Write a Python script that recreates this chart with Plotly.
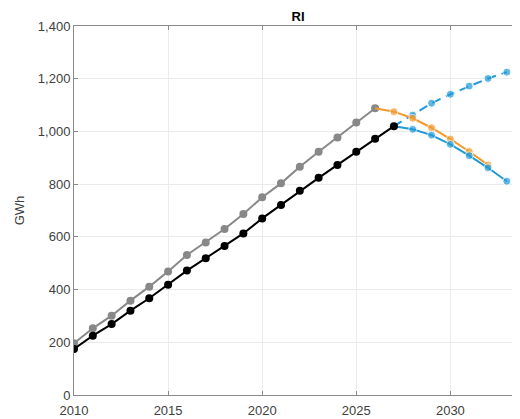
import plotly.graph_objects as go

years_hist = list(range(2010, 2027))
grey_vals = [196, 253, 301, 358, 411, 469, 531, 579, 630, 687, 750, 803, 866, 923, 977, 1034, 1088]
years_black = list(range(2010, 2028))
black_vals = [175, 225, 269, 320, 367, 418, 472, 519, 565, 613, 670, 721, 775, 824, 873, 923, 972, 1020]
years_orange = list(range(2026, 2033))
orange_vals = [1088, 1075, 1050, 1014, 971, 924, 873]
years_blue = list(range(2027, 2034))
blue_vals = [1020, 1008, 986, 951, 908, 862, 811]
blue_dash_vals = [1020, 1062, 1107, 1141, 1172, 1201, 1225]
y_ticks = [0, 200, 400, 600, 800, 1000, 1200, 1400]
x_ticks = [2010, 2015, 2020, 2025, 2030]

GREY = "#888888"
ORANGE = "#F39A2E"
BLUE = "#1F9AD6"

fig = go.Figure()
fig.add_trace(go.Scatter(x=years_blue, y=blue_dash_vals, mode="lines+markers",
                         line=dict(color=BLUE, width=2, dash="9px,6px"),
                         marker=dict(color=BLUE, size=[0] + [8] * 6)))
fig.add_trace(go.Scatter(x=years_hist, y=grey_vals, mode="lines+markers",
                         line=dict(color=GREY, width=2), marker=dict(color=GREY, size=8)))
fig.add_trace(go.Scatter(x=years_orange, y=orange_vals, mode="lines+markers",
                         line=dict(color=ORANGE, width=2),
                         marker=dict(color=ORANGE, size=[0] + [8] * 6)))
fig.add_trace(go.Scatter(x=years_blue, y=blue_vals, mode="lines+markers",
                         line=dict(color=BLUE, width=2),
                         marker=dict(color=BLUE, size=[0] + [8] * 6)))
fig.add_trace(go.Scatter(x=years_black, y=black_vals, mode="lines+markers",
                         line=dict(color="black", width=2), marker=dict(color="black", size=8)))

axis_common = dict(showgrid=True, gridcolor="#ebebeb", gridwidth=1, zeroline=False,
                   showline=True, linecolor="#8a8a8a", linewidth=1,
                   ticks="inside", ticklen=4, tickcolor="#8a8a8a",
                   tickfont=dict(family="Liberation Sans, Arial", size=13, color="#404040"))

W, H = 512, 411
fig.update_layout(
    width=W, height=H,
    margin=dict(l=66, r=0, t=18, b=24),
    paper_bgcolor="white", plot_bgcolor="white",
    showlegend=False,
    title=dict(text="<b>RI</b>", x=290 / W, xanchor="center", y=1 - 8 / H, yanchor="middle",
               font=dict(family="Liberation Sans, Arial", size=13, color="black")),
    xaxis=dict(range=[2010, 2033.7], tickvals=x_ticks, ticktext=[str(v) for v in x_ticks],
               mirror="ticks", ticklabelstandoff=3, **axis_common),
    yaxis=dict(range=[0, 1400], tickvals=y_ticks, tickformat=",",
               title=dict(text="GWh", standoff=10,
                          font=dict(family="Liberation Sans, Arial", size=13, color="#404040")),
               **axis_common),
)

fig.write_html("out.html")
